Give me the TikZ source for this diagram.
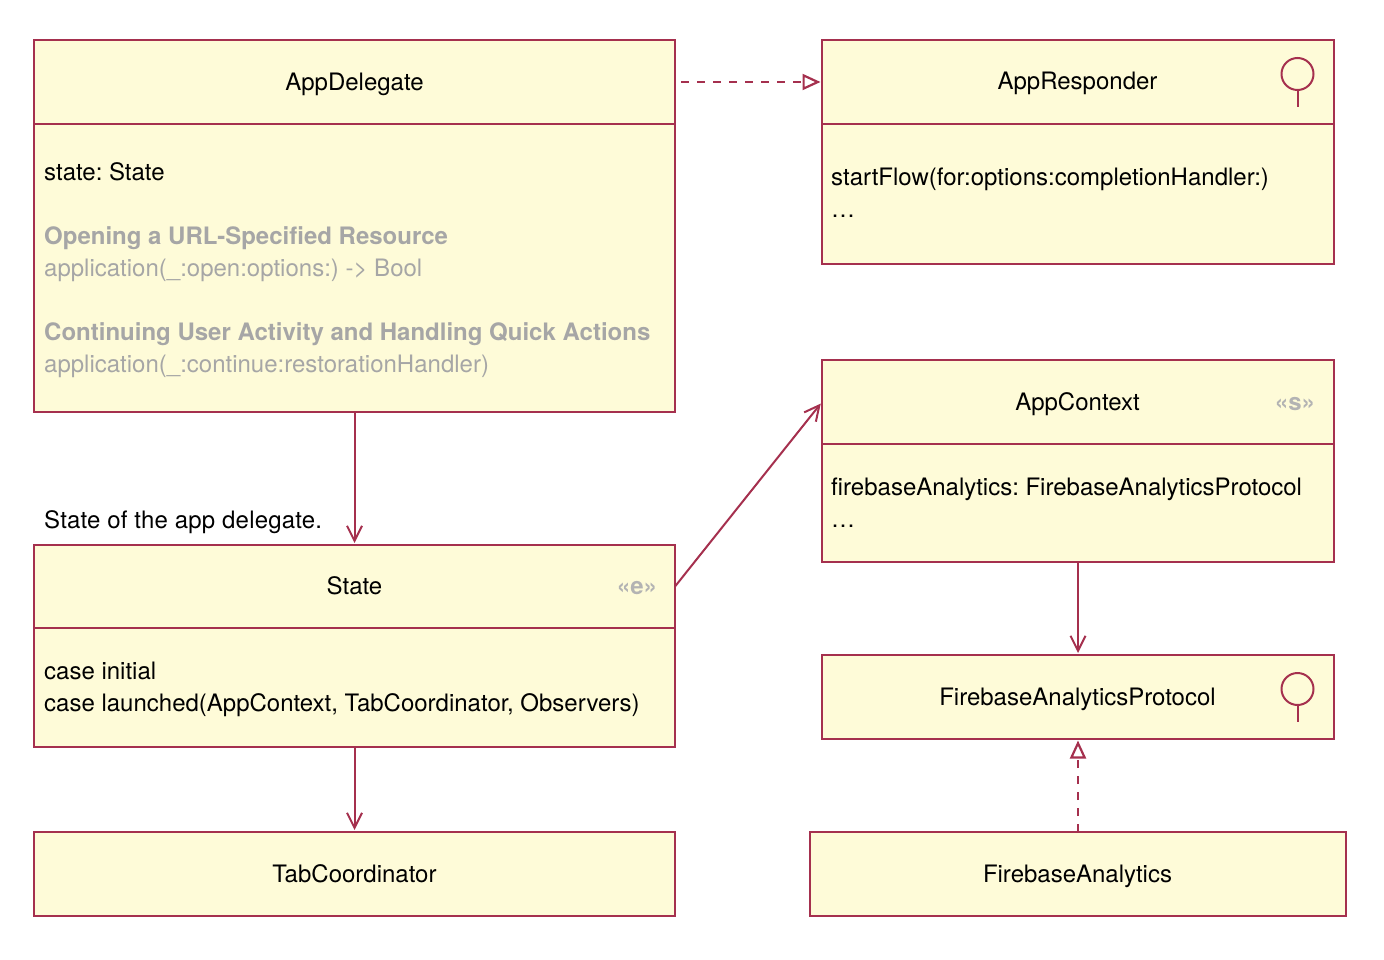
\documentclass[tikz,border=0pt]{standalone}
\usepackage{fontspec}
\setmainfont{TeX Gyre Heros}
\usetikzlibrary{arrows.meta}
\definecolor{umlline}{HTML}{A5304E}
\definecolor{umlfill}{HTML}{FEFBD8}
\definecolor{umlgray}{HTML}{A6A6A6}
\tikzset{
  umlbox/.style={draw=umlline,fill=umlfill,line width=1.9pt,anchor=north west,inner sep=0pt,outer sep=0pt},
  title/.style={anchor=base,inner sep=0pt,text=black},
  txt/.style={anchor=base west,inner sep=0pt,text=black},
  graytxt/.style={anchor=base west,inner sep=0pt,text=umlgray},
  stereo/.style={anchor=base,inner sep=0pt,text=umlgray!85,font=\fontsize{24}{28}\selectfont\bfseries},
  assoc/.style={draw=umlline,line width=2pt,shorten >=2pt,-{Straight Barb[length=15pt,width=15pt,line width=2pt]}},
  realize/.style={draw=umlline,line width=2pt,dash pattern=on 8pt off 8pt,shorten >=1.5pt,-{Triangle[open,length=18pt,width=16pt,line width=2.2pt,fill=white]}},
  lollipop/.style={draw=umlline,line width=2pt},
}
\newcommand{\ubox}[5]{\node[umlbox,minimum width=#4pt-#2pt,minimum height=#5pt-#3pt] (#1) at (#2,#3) {};}
\begin{document}
\frenchspacing
\begin{tikzpicture}[x=1pt,y=-1pt,every node/.append style={font=\fontsize{24}{28}\selectfont}]
\useasboundingbox (0,0) rectangle (1384,960);
% boxes
\ubox{delegateHead}{34}{40}{675}{124}
\ubox{delegateBody}{34}{124}{675}{412}
\ubox{responderHead}{822}{40}{1334}{124}
\ubox{responderBody}{822}{124}{1334}{264}
\ubox{contextHead}{822}{360}{1334}{444}
\ubox{contextBody}{822}{444}{1334}{562}
\ubox{stateHead}{34}{545}{675}{628}
\ubox{stateBody}{34}{628}{675}{747}
\ubox{protocolBox}{822}{655}{1334}{739}
\ubox{tabBox}{34}{832}{675}{916}
\ubox{analyticsBox}{810}{832}{1346}{916}
% titles
\node[title] (t1) at (354.5,91) {AppDelegate};
\node[title] (t2) at (1077.5,90) {AppResponder};
\node[title] (t3) at (1077.5,410) {AppContext};
\node[title] (t4) at (354.5,594) {State};
\node[title] (t5) at (1077.5,705) {FirebaseAnalyticsProtocol};
\node[title] (t6) at (354.5,882) {TabCoordinator};
\node[title] (t7) at (1077.5,882) {FirebaseAnalytics};
% stereotypes
\node[stereo] (s1) at (1295,410) {«s»};
\node[stereo] (s2) at (637,594) {«e»};
% members
\node[txt] (m1) at (44,181) {state: State};
\node[graytxt] (m2) at (44,244) {\textbf{Opening a URL-Specified Resource}};
\node[graytxt] (m3) at (44,276) {application(\_:open:options:) -> Bool};
\node[graytxt] (m4) at (44,340) {\textbf{Continuing User Activity and Handling Quick Actions}};
\node[graytxt] (m5) at (44,372) {application(\_:continue:restorationHandler)};
\node[txt] (m6) at (831,186) {startFlow(for:options:completionHandler:)};
\node[txt] (m7) at (831,218) {…};
\node[txt] (m8) at (831,495) {firebaseAnalytics: FirebaseAnalyticsProtocol};
\node[txt] (m9) at (831,527) {…};
\node[txt] (m10) at (44,679) {case initial};
\node[txt] (m11) at (44,711) {case launched(AppContext, TabCoordinator, Observers)};
\node[txt] (note) at (44,528) {\addfontfeature{LetterSpace=0.8}State of the app delegate.};
% lollipops
\node[circle,draw=umlline,line width=2pt,minimum size=32pt,inner sep=0pt,outer sep=0pt] (c1) at (1297.5,74) {};
\coordinate (c1end) at (1297.5,107);
\draw[lollipop] (c1.south) -- (c1end);
\node[circle,draw=umlline,line width=2pt,minimum size=32pt,inner sep=0pt,outer sep=0pt] (c2) at (1297.5,689) {};
\coordinate (c2end) at (1297.5,722);
\draw[lollipop] (c2.south) -- (c2end);
% connectors
\draw[realize,shorten <=6pt] (delegateHead.east) -- (responderHead.west);
\draw[assoc] (delegateBody.south) -- (stateHead.north);
\draw[assoc] (stateHead.east) -- (contextHead.west);
\draw[assoc] (contextBody.south) -- (protocolBox.north);
\draw[assoc] (stateBody.south) -- (tabBox.north);
\draw[realize] (analyticsBox.north) -- (protocolBox.south);
\end{tikzpicture}
\end{document}
